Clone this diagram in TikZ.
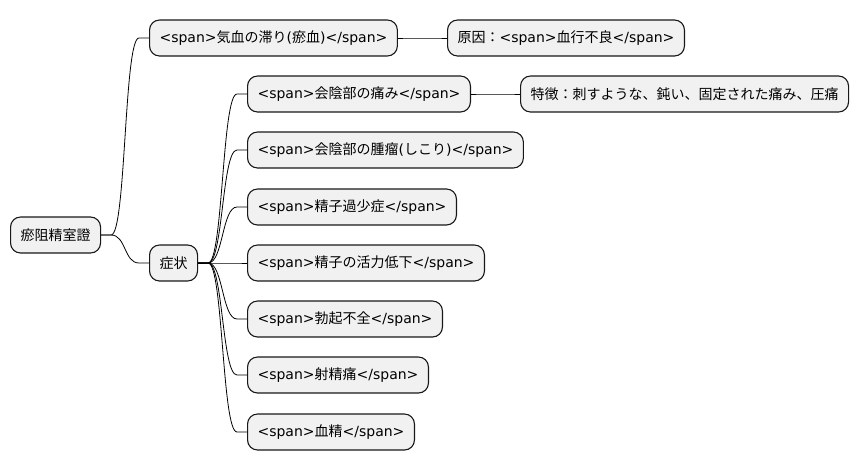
\documentclass[tikz,border=0pt]{standalone}
\usepackage{fontspec}
\setmainfont{DejaVu Sans}
\newfontfamily\jpfont{Noto Sans CJK JP}
\usepackage{xcolor}
\definecolor{boxfill}{HTML}{F1F1F1}
\definecolor{boxline}{HTML}{181818}
\newcommand{\jp}[1]{{\jpfont #1}}
\tikzset{
	mapbox/.style={draw=boxline, fill=boxfill, line width=1.1pt, rounded corners=10pt,
		anchor=west, minimum height=36pt, inner xsep=10pt, inner ysep=0pt,
		font=\fontsize{14pt}{16pt}\selectfont},
	branchline/.style={draw=black, line width=0.8pt}
}
\newcommand{\branch}[2]{\draw[branchline] (#1.east) -- ([xshift=10pt]#1.east) .. controls +(15,0) and +(-15,0) .. ([xshift=-10pt]#2.west) -- (#2.west);}
\begin{document}
\begin{tikzpicture}[x=1pt,y=-1pt]
		\useasboundingbox (0,0) rectangle (859,471);
		
		\node[mapbox] (root) at (10,235) {\jp{瘀阻精室證}};
		\node[mapbox] (qiblood) at (149,38) {<span>\jp{気血の滞り}(\jp{瘀血})</span>};
		\node[mapbox] (cause) at (447,38) {\jp{原因：}<span>\jp{血行不良}</span>};
		\node[mapbox] (symptom) at (149,263) {\jp{症状}};
		
		\node[mapbox] (pain) at (247,94) {<span>\jp{会陰部の痛み}</span>};
		\node[mapbox] (feature) at (520,94) {\jp{特徴：刺すような、鈍い、固定された痛み、圧痛}};
		\node[mapbox] (mass) at (247,150) {<span>\jp{会陰部の腫瘤}(\jp{しこり})</span>};
		\node[mapbox] (oligo) at (247,207) {<span>\jp{精子過少症}</span>};
		\node[mapbox] (motility) at (247,263) {<span>\jp{精子の活力低下}</span>};
		\node[mapbox] (impotence) at (247,319) {<span>\jp{勃起不全}</span>};
		\node[mapbox] (ejpain) at (247,375) {<span>\jp{射精痛}</span>};
		\node[mapbox] (hemo) at (247,432) {<span>\jp{血精}</span>};
		
		% branches
		\branch{root}{qiblood}
		\branch{root}{symptom}
		\branch{qiblood}{cause}
		\branch{pain}{feature}
		\foreach \c in {pain,mass,oligo,motility,impotence,ejpain,hemo}
		{
		\branch{symptom}{\c}
		}
	\end{tikzpicture}
\end{document}
